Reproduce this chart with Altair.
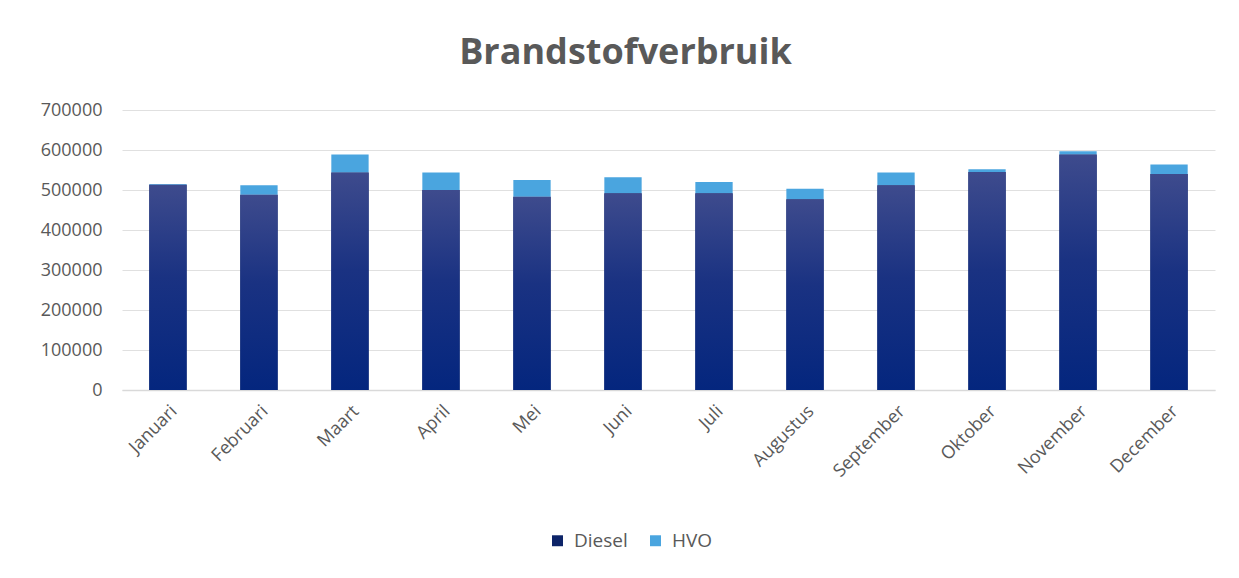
import altair as alt
import pandas as pd

months = ["Januari", "Februari", "Maart", "April", "Mei", "Juni", "Juli",
          "Augustus", "September", "Oktober", "November", "December"]
diesel = [513000, 488000, 544000, 500000, 483000, 492000, 492000, 477000, 512000, 545000, 589000, 540000]
hvo = [2000, 24000, 45000, 44000, 42000, 40000, 28000, 26000, 32000, 7000, 8000, 24000]
series = ["Diesel", "HVO"]
y_ticks = [0, 100000, 200000, 300000, 400000, 500000, 600000, 700000]

wide = pd.DataFrame({"Maand": months, "Diesel": diesel, "HVO": hvo})
long = wide.melt(id_vars="Maand", value_vars=series, var_name="Type", value_name="Waarde")
long["ord"] = long["Type"].map({"Diesel": 0, "HVO": 1})

FONT = "Open Sans"
GREY = "#595959"

x_axis = alt.Axis(labelAngle=-45, labelFontSize=18, labelColor=GREY,
                  labelFont=FONT, ticks=False, domainColor="#d9d9d9",
                  labelPadding=12, domainWidth=1.5, title=None)
y_axis = alt.Axis(values=y_ticks, format="d", labelFontSize=18, labelColor=GREY,
                  labelFont=FONT, ticks=False, domain=False, gridColor="#e0e0e0",
                  labelPadding=20, labelOverlap=False, title=None)
x_scale = alt.Scale(paddingInner=0.59, paddingOuter=0.3)
y_scale = alt.Scale(domain=[0, 700000])

stacked = alt.Chart(long).mark_bar().encode(
    x=alt.X("Maand:N", sort=months, title=None, scale=x_scale, axis=x_axis),
    y=alt.Y("Waarde:Q", stack="zero", title=None, scale=y_scale, axis=y_axis),
    color=alt.Color("Type:N", scale=alt.Scale(domain=series, range=["#0d2468", "#4aa5df"]),
                    legend=alt.Legend(title=None, orient="none", legendX=426, legendY=421,
                                      direction="horizontal", symbolType="square",
                                      symbolSize=120, labelFontSize=19, labelColor=GREY,
                                      labelFont=FONT, columnPadding=18, symbolStrokeWidth=0,
                                      labelOffset=7)),
    order=alt.Order("ord:Q"),
)

grad = alt.LinearGradient(
    gradient="linear",
    stops=[alt.GradientStop(color="#3e4b8d", offset=0),
           alt.GradientStop(color="#1a3282", offset=0.45),
           alt.GradientStop(color="#04267e", offset=1)],
    x1=0, x2=0, y1=0, y2=1,
)

diesel_layer = alt.Chart(wide).mark_bar(color=grad).encode(
    x=alt.X("Maand:N", sort=months, title=None, scale=x_scale, axis=x_axis),
    y=alt.Y("Diesel:Q", title=None, scale=y_scale, axis=y_axis),
)

chart = alt.layer(stacked, diesel_layer).properties(
    width=1093, height=280,
    title=alt.TitleParams("Brandstofverbruik", fontSize=36, font=FONT, fontWeight="bold",
                          color=GREY, offset=29, dx=-43, anchor="middle"),
    autosize=alt.AutoSizeParams(type="none"),
    padding={"left": 122, "top": 110, "right": 24, "bottom": 188},
).configure(background="white", view=alt.ViewConfig(stroke=None))

chart.save("out.html", embed_options={"renderer": "svg", "actions": False})
